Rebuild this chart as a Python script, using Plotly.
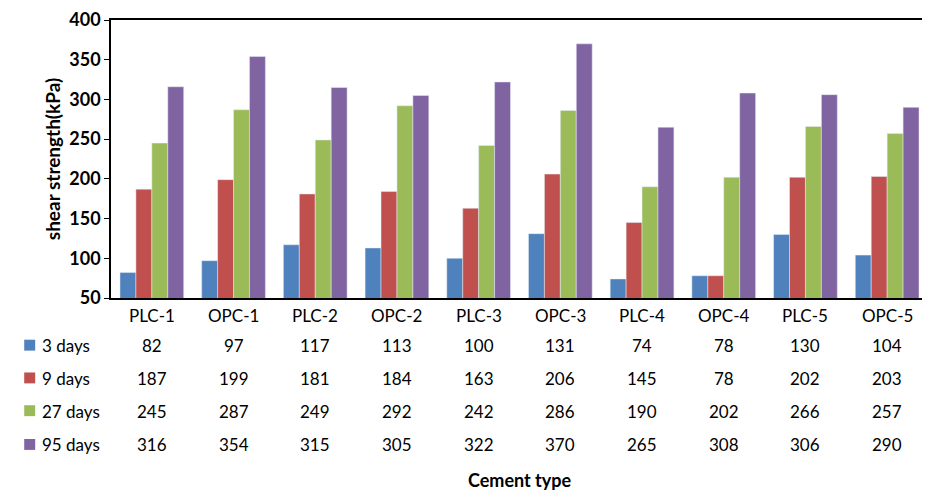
import plotly.graph_objects as go

categories = ["PLC-1","OPC-1","PLC-2","OPC-2","PLC-3","OPC-3","PLC-4","OPC-4","PLC-5","OPC-5"]
series_names = ["3 days","9 days","27 days","95 days"]
d3 = [82,97,117,113,100,131,74,78,130,104]
d9 = [187,199,181,184,163,206,145,78,202,203]
d27 = [245,287,249,292,242,286,190,202,266,257]
d95 = [316,354,315,305,322,370,265,308,306,290]
colors = ["#4F81BD","#C0504D","#9BBB59","#8064A2"]
all_series = [d3, d9, d27, d95]

OFF = 8
W, H = 922, 488
L, R, T, B = 103, 0, 10, 198
ph = H - T - B
pw = W - L - R
def py(p):
    return (H - B - (p - OFF)) / ph
def px(p):
    return ((p - 5) - L) / pw

FAM = "Lato, Liberation Sans, sans-serif"
fig = go.Figure()
for name, vals, c in zip(series_names, all_series, colors):
    fig.add_trace(go.Bar(x=categories, y=vals, name=name, marker_color=c, showlegend=False))

font = dict(family=FAM, size=17, color="black")
ann = []
for c in categories:
    ann.append(dict(x=c, y=py(316), xref="x", yref="paper", text=c, showarrow=False, font=font, yanchor="middle"))
row_y = [346, 379, 412, 446]
shapes = []
for i, (name, vals, col) in enumerate(zip(series_names, all_series, colors)):
    yy = py(row_y[i])
    for c, v in zip(categories, vals):
        ann.append(dict(x=c, y=yy, xref="x", yref="paper", text=str(v), showarrow=False, font=font, yanchor="middle"))
    ann.append(dict(x=px(37), y=yy, xref="paper", yref="paper", text=name, showarrow=False,
                    xanchor="left", yanchor="middle", font=font))
    shapes.append(dict(type="rect", xref="paper", yref="paper", x0=px(21), x1=px(32),
                       y0=py(row_y[i] + 5), y1=py(row_y[i] - 6), fillcolor=col, line_width=0))
ann.append(dict(x=0.5, y=py(481), xref="paper", yref="paper", text="<b>Cement type</b>", yanchor="middle",
                showarrow=False, font=dict(family=FAM, size=18, color="black")))

fig.update_layout(
    width=W, height=H, margin=dict(l=L, r=R, t=T, b=B),
    plot_bgcolor="white", paper_bgcolor="white",
    barmode="group", bargap=0.22, bargroupgap=0,
    annotations=ann, shapes=shapes,
    xaxis=dict(showticklabels=False, showline=True, linecolor="black", linewidth=1.5, mirror=True,
               ticks="", showgrid=False),
    yaxis=dict(range=[50, 400], dtick=50, showline=True, linecolor="black", linewidth=1.5, mirror=True,
               ticks="outside", ticklen=5, tickcolor="black", showgrid=False, ticklabeloverflow="allow",
               tickfont=dict(family=FAM, size=18, color="black", weight="bold"),
               title=dict(text="<b>shear strength(kPa)</b>", standoff=4,
                          font=dict(family=FAM, size=19, color="black"))),
)
fig.write_html("out.html")
